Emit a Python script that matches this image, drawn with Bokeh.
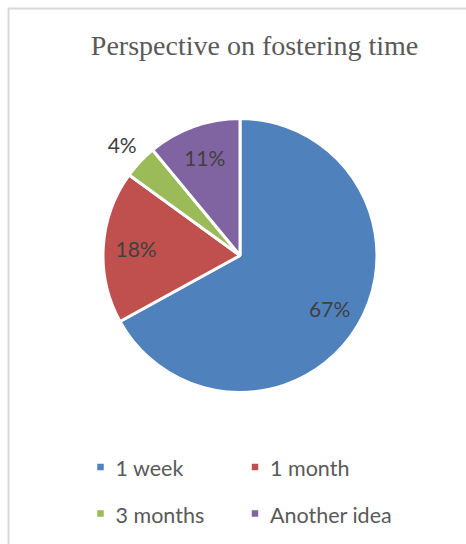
import numpy as np
from bokeh.plotting import figure
from bokeh.models import Range1d, ColumnDataSource
from bokeh.core.properties import value
from bokeh.embed import file_html
from bokeh.resources import INLINE

# ---- data ----
title = "Perspective on fostering time"
categories = ["1 week", "1 month", "3 months", "Another idea"]
percents = [67, 18, 4, 11]
colors = ["#4F81BD", "#C0504D", "#9BBB59", "#8064A2"]

W, H = 466, 544
p = figure(width=W, height=H, output_backend="svg", toolbar_location=None,
           x_range=Range1d(0, W), y_range=Range1d(0, H), min_border=0)
p.axis.visible = False
p.grid.visible = False
p.outline_line_color = None
p.background_fill_color = "white"
p.border_fill_color = "white"

# chart area frame (open to the right/bottom like the cropped original)
p.quad(left=[8], right=[W + 20], top=[H - 8], bottom=[-20],
       fill_color=None, line_color="#D9D9D9", line_width=2)

# pie
cx, cy, r = 239.5, H - 255, 137
frac = np.array(percents, dtype=float) / sum(percents)
cum = np.concatenate([[0], np.cumsum(frac)])
start = np.pi / 2 - cum[:-1] * 2 * np.pi
end = np.pi / 2 - cum[1:] * 2 * np.pi
src = ColumnDataSource(dict(start=start, end=end, color=colors, cat=categories))
p.wedge(x=cx, y=cy, radius=r, start_angle="start", end_angle="end",
        direction="clock", fill_color="color", line_color="white",
        line_width=3, source=src)

# data labels
mid = (cum[:-1] + cum[1:]) / 2 * 2 * np.pi
lr = np.where(frac < 0.05, 1.18 * r, 0.76 * r)
lx = cx + lr * np.sin(mid)
ly = cy + lr * np.cos(mid)
labels = [f"{v}%" for v in percents]
p.text(x=lx, y=ly, text=labels, text_align="center", text_baseline="middle",
       text_font=value("Lato"), text_font_size="21px", text_color="#404040")

# title
p.text(x=[254], y=[H - 45], text=[title], text_align="center",
       text_baseline="middle", text_font=value("Liberation Serif"),
       text_font_size="28px", text_color="#595959")

# legend
lgx = [100, 254.5, 100, 254.5]
lgy = [H - 466.5, H - 466.5, H - 513, H - 513]
p.rect(x=lgx, y=lgy, width=6.5, height=6.5, fill_color=colors, line_color=None)
p.text(x=[x + 15 for x in lgx], y=[y - 1 for y in lgy], text=categories,
       text_align="left", text_baseline="middle", text_font=value("Lato"),
       text_font_size="21.5px", text_color="#595959")

open("out.html", "w").write(file_html(p, INLINE))
